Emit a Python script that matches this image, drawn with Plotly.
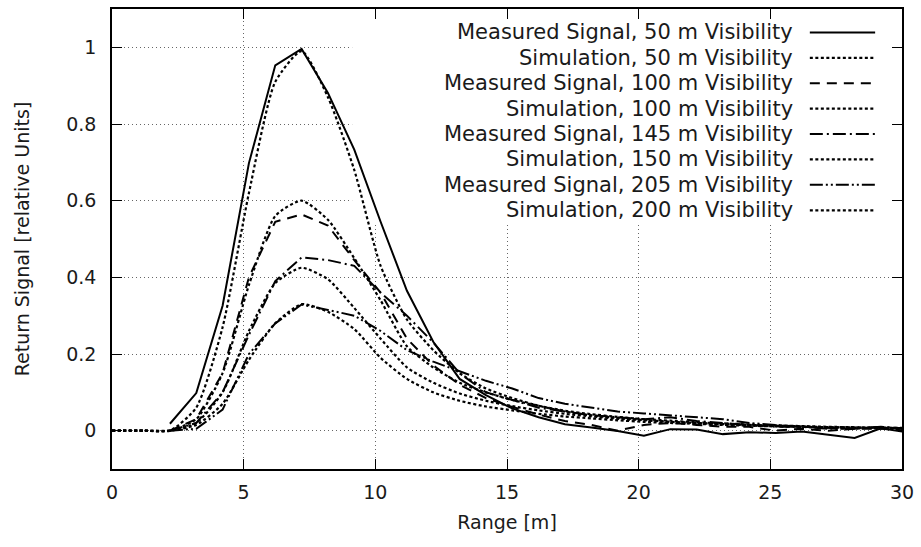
import plotly.graph_objects as go

# ---------------- data ----------------
x_meas = [2.2, 3.2, 4.2, 5.2, 6.2, 7.2, 8.2, 9.2, 10.2, 11.2, 12.2, 13.2, 14.2, 15.2,
          16.2, 17.2, 18.2, 19.2, 20.2, 21.2, 22.2, 23.2, 24.2, 25.2, 26.2, 27.2,
          28.2, 29.2, 30.2]
x_sim = [0, 1.2] + x_meas

meas50 = [0.018, 0.098, 0.326, 0.698, 0.953, 0.996, 0.881, 0.733, 0.545, 0.365, 0.232,
          0.135, 0.093, 0.058, 0.035, 0.017, 0.008, -0.001, -0.013, 0.004, 0.003,
          -0.009, -0.004, -0.006, -0.002, -0.010, -0.019, 0.006, -0.004]
meas100 = [0.0, 0.03, 0.15, 0.40, 0.545, 0.564, 0.535, 0.445, 0.36, 0.24, 0.17, 0.12,
           0.085, 0.062, 0.042, 0.025, 0.015, 0.0, 0.015, 0.02, 0.015, 0.01, 0.01, 0.0,
           0.005, 0.0, 0.005, 0.005, 0.0]
meas145 = [0.0, 0.02, 0.10, 0.25, 0.39, 0.452, 0.445, 0.43, 0.36, 0.30, 0.23, 0.15, 0.10,
           0.08, 0.06, 0.05, 0.04, 0.035, 0.03, 0.035, 0.025, 0.02, 0.015, 0.01, 0.01,
           0.008, 0.005, 0.01, 0.005]
meas205 = [0.0, 0.005, 0.055, 0.20, 0.28, 0.329, 0.315, 0.30, 0.26, 0.21, 0.18, 0.155,
           0.13, 0.11, 0.085, 0.07, 0.06, 0.05, 0.045, 0.04, 0.035, 0.03, 0.02, 0.015,
           0.01, 0.005, 0.005, 0.01, 0.005]

sim50 = [0, 0, 0.0, 0.06, 0.27, 0.62, 0.91, 0.99, 0.87, 0.68, 0.43, 0.29, 0.21, 0.15,
         0.11, 0.085, 0.065, 0.05, 0.04, 0.033, 0.028, 0.023, 0.02, 0.017, 0.014, 0.012,
         0.01, 0.009, 0.008, 0.007, 0.006]
sim100 = [0, 0, 0.0, 0.03, 0.15, 0.38, 0.56, 0.60, 0.55, 0.45, 0.34, 0.22, 0.165, 0.125,
          0.10, 0.08, 0.065, 0.052, 0.043, 0.036, 0.03, 0.026, 0.022, 0.019, 0.016, 0.014,
          0.012, 0.01, 0.009, 0.008, 0.007]
sim150 = [0, 0, 0.0, 0.02, 0.10, 0.26, 0.385, 0.425, 0.395, 0.32, 0.24, 0.165, 0.125,
          0.097, 0.078, 0.064, 0.053, 0.044, 0.037, 0.031, 0.027, 0.023, 0.02, 0.017,
          0.015, 0.013, 0.011, 0.009, 0.008, 0.007, 0.006]
sim200 = [0, 0, 0.0, 0.015, 0.07, 0.185, 0.28, 0.33, 0.31, 0.265, 0.19, 0.135, 0.10,
          0.078, 0.063, 0.053, 0.044, 0.037, 0.032, 0.027, 0.023, 0.02, 0.018, 0.015,
          0.013, 0.011, 0.01, 0.008, 0.007, 0.006, 0.005]

labels = ["Measured Signal, 50 m Visibility", "Simulation, 50 m Visibility",
          "Measured Signal, 100 m Visibility", "Simulation, 100 m Visibility",
          "Measured Signal, 145 m Visibility", "Simulation, 150 m Visibility",
          "Measured Signal, 205 m Visibility", "Simulation, 200 m Visibility"]

x_ticks = [0, 5, 10, 15, 20, 25, 30]
y_ticks = [0, 0.2, 0.4, 0.6, 0.8, 1]
y_tick_text = ["0", "0.2", "0.4", "0.6", "0.8", "1"]

# ---------------- styles ----------------
FONT = "DejaVu Sans"
FS_KEY = 21
FS_AX = 19
TXT = "#1a1a1a"
DOT = "3px,2.5px"
styles = [
    ("solid", 2.0), (DOT, 2.2),
    ("10px,7px", 2.0), (DOT, 2.2),
    ("13px,4px,2px,4px", 2.0), (DOT, 2.2),
    ("13px,3px,2px,3px,2px,3px", 2.0), (DOT, 2.2),
]
series = [(x_meas, meas50, False), (x_sim, sim50, True),
          (x_meas, meas100, False), (x_sim, sim100, True),
          (x_meas, meas145, False), (x_sim, sim150, True),
          (x_meas, meas205, False), (x_sim, sim200, True)]

fig = go.Figure()
for (xs, ys, is_sim), (dash, w), name in zip(series, styles, labels):
    fig.add_trace(go.Scatter(
        x=xs, y=ys, mode="lines", name=name, showlegend=False,
        line=dict(color="black", width=w, dash=dash,
                  shape="spline" if is_sim else "linear",
                  smoothing=0.6 if is_sim else 0),
    ))

# key (gnuplot-style: text right-aligned, sample on the right, opaque box)
shapes = [dict(type="rect", xref="x", yref="y", x0=9.12, x1=30, y0=0.537, y1=1.1,
               fillcolor="white", line=dict(width=0), layer="between")]
annotations = []
row_y0 = 1.039
row_step = 0.0663
for i, ((dash, w), name) in enumerate(zip(styles, labels)):
    yy = row_y0 - i * row_step
    annotations.append(dict(x=25.95, y=yy, xref="x", yref="y", text=name,
                            showarrow=False, xanchor="right", yanchor="middle",
                            font=dict(family=FONT, size=FS_KEY, color=TXT)))
    shapes.append(dict(type="line", xref="x", yref="y", x0=26.5, x1=28.98, y0=yy, y1=yy,
                       line=dict(color="black", width=w, dash=dash), layer="above"))

fig.update_layout(
    width=921, height=547,
    margin=dict(l=112, r=19, t=9, b=78),
    paper_bgcolor="white", plot_bgcolor="white",
    font=dict(family=FONT, size=FS_AX, color=TXT),
    shapes=shapes, annotations=annotations,
    showlegend=False,
)
axis_common = dict(
    showline=True, linecolor="black", linewidth=1.5, mirror="allticks",
    ticks="inside", ticklen=10, tickcolor="black", tickwidth=1,
    showgrid=True, gridcolor="#666", griddash="1px,3px", gridwidth=1,
    zeroline=False, automargin=False,
    tickfont=dict(family=FONT, size=FS_AX, color=TXT),
)
fig.update_xaxes(range=[0, 30], tickvals=x_ticks,
                 title=dict(text="Range [m]", standoff=14, font=dict(family=FONT, size=FS_AX)),
                 ticklabelstandoff=5, **axis_common)
fig.update_yaxes(range=[-0.1, 1.1], tickvals=y_ticks, ticktext=y_tick_text,
                 title=dict(text="Return Signal [relative Units]", standoff=32,
                            font=dict(family=FONT, size=FS_AX)),
                 ticklabelstandoff=10, **axis_common)

fig.write_html("out.html", config={"displayModeBar": False},
               post_script="document.body.style.margin='0';")
